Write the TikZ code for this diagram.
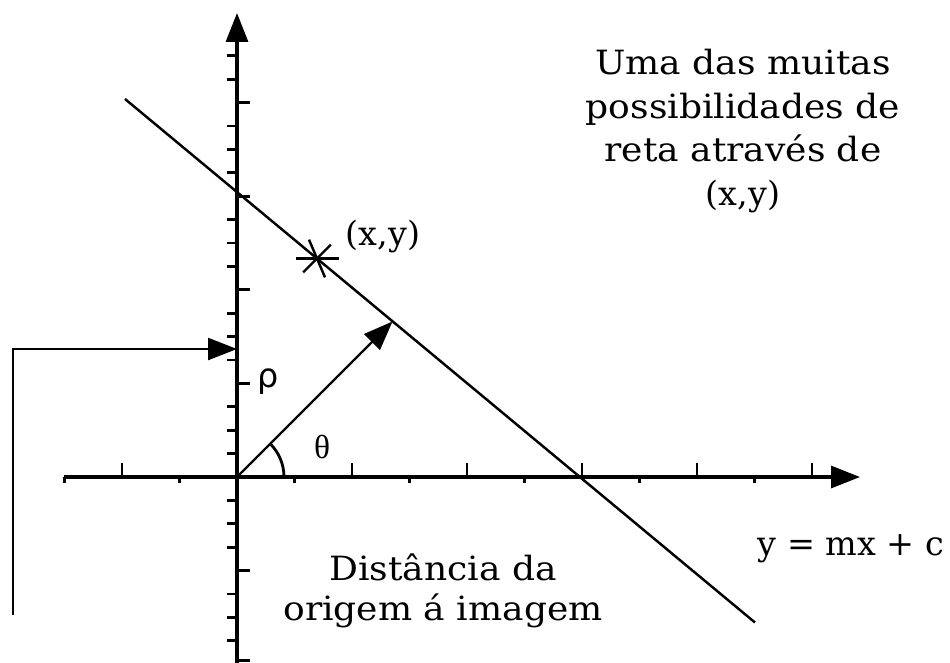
\documentclass[tikz,border=0pt]{standalone}
\usepackage{fontspec}
\setmainfont{DejaVu Serif}
\newfontfamily\widefont{DejaVu Serif}[FakeStretch=1.08]
\newfontfamily\greeksans{DejaVu Sans}
\newfontfamily\greekserif{Liberation Serif}
\usetikzlibrary{arrows.meta}

\begin{document}
\begin{tikzpicture}[
	c_axis/.style={
		line width=1.8pt
	},
	c_tick/.style={
		line width=1.6pt
	},
	c_line/.style={
		line width=1.4pt
	},
	c_head/.style={
		-{Triangle[length=0.58cm,width=0.44cm]}
	},
	c_text/.style={
		font=\fontsize{19pt}{25pt}\selectfont,
		align=center,
		inner sep=0pt
	}
	]
	
	\useasboundingbox (-4.74,-3.70) rectangle (14.26,9.54);
	
	% =========================================================================
	% AXES
	% =========================================================================
	
	\coordinate (O) at (0,0);
	\coordinate (xstart) at (-3.45,0);
	\coordinate (xend) at (12.46,0);
	\coordinate (ystart) at (0,-3.75);
	\coordinate (yend) at (0,9.28);
	
	\draw[c_axis,c_head] (xstart) -- (xend);
	\draw[c_axis,c_head] (ystart) -- (yend);
	
	% x ticks
	\foreach \k in {-3,-1,1,3,5,7,9}
	{
		\draw[c_tick] (\k*1.15,0) -- (\k*1.15,-0.12);
	}
	\foreach \k in {-2,2,4,6,8,10}
	{
		\draw[c_tick] (\k*1.15,0) -- (\k*1.15,0.28);
	}
	
	% y ticks
	\foreach \k in {-7,-6,-5,-3,-2,-1,1,2,3,5,6,7,9,10,11,13,14,15,17,18}
	{
		\draw[c_tick] (0,\k*0.468) -- (-0.2,\k*0.468);
	}
	\foreach \k in {-7.85,-4,4,8,12,16}
	{
		\draw[c_tick] (0,\k*0.468) -- (0.26,\k*0.468);
	}
	
	% =========================================================================
	% LINE AND NORMAL
	% =========================================================================
	
	\coordinate (lstart) at (-2.24,7.56);
	\coordinate (lend) at (10.36,-2.91);
	\draw[c_line] (lstart) -- (lend);
	
	\coordinate (foot) at (3.11,3.11);
	\draw[c_line,c_head] (O) -- (foot);
	
	% Angle
	\draw[c_tick] (0.94,0) arc (0:45:0.94);
	
	% Point on the line
	\coordinate (pt) at (1.60,4.37);
	\draw[c_line] (pt) ++(0:0.43) -- ++(180:0.86);
	\draw[c_line] (pt) ++(45:0.39) -- ++(225:0.78);
	\draw[c_line] (pt) ++(113:0.41) -- ++(293:0.82);
	
	% =========================================================================
	% BRACKET
	% =========================================================================
	
	\coordinate (bbot) at (-4.48,-2.76);
	\coordinate (btop) at (-4.48,2.56);
	\coordinate (rhoin) at (0,2.56);
	\draw[c_line,c_head] (bbot) -- (btop) -- (rhoin);
	
	% =========================================================================
	% LABELS
	% =========================================================================
	
	\node[c_text] (title) at (10.12,6.92)
	{\widefont Uma das muitas\\\widefont possibilidades de\\\widefont reta através de\\(x,y)};
	
	\node[c_text] (ptlabel) at (2.92,4.80) {(x,y)};
	\node[c_text] (rho) at (0.62,1.90) {\greeksans ρ};
	\node[c_text] (theta) at (1.70,0.60) {\greekserif θ};
	
	\node[c_text,anchor=base] (eqn) at (12.28,-1.56) {y = mx + c};
	
	\node[c_text,font=\fontsize{19pt}{23pt}\selectfont\widefont] (dist) at (4.12,-2.28)
	{Distância da\\origem á imagem};
	
\end{tikzpicture}
\end{document}
